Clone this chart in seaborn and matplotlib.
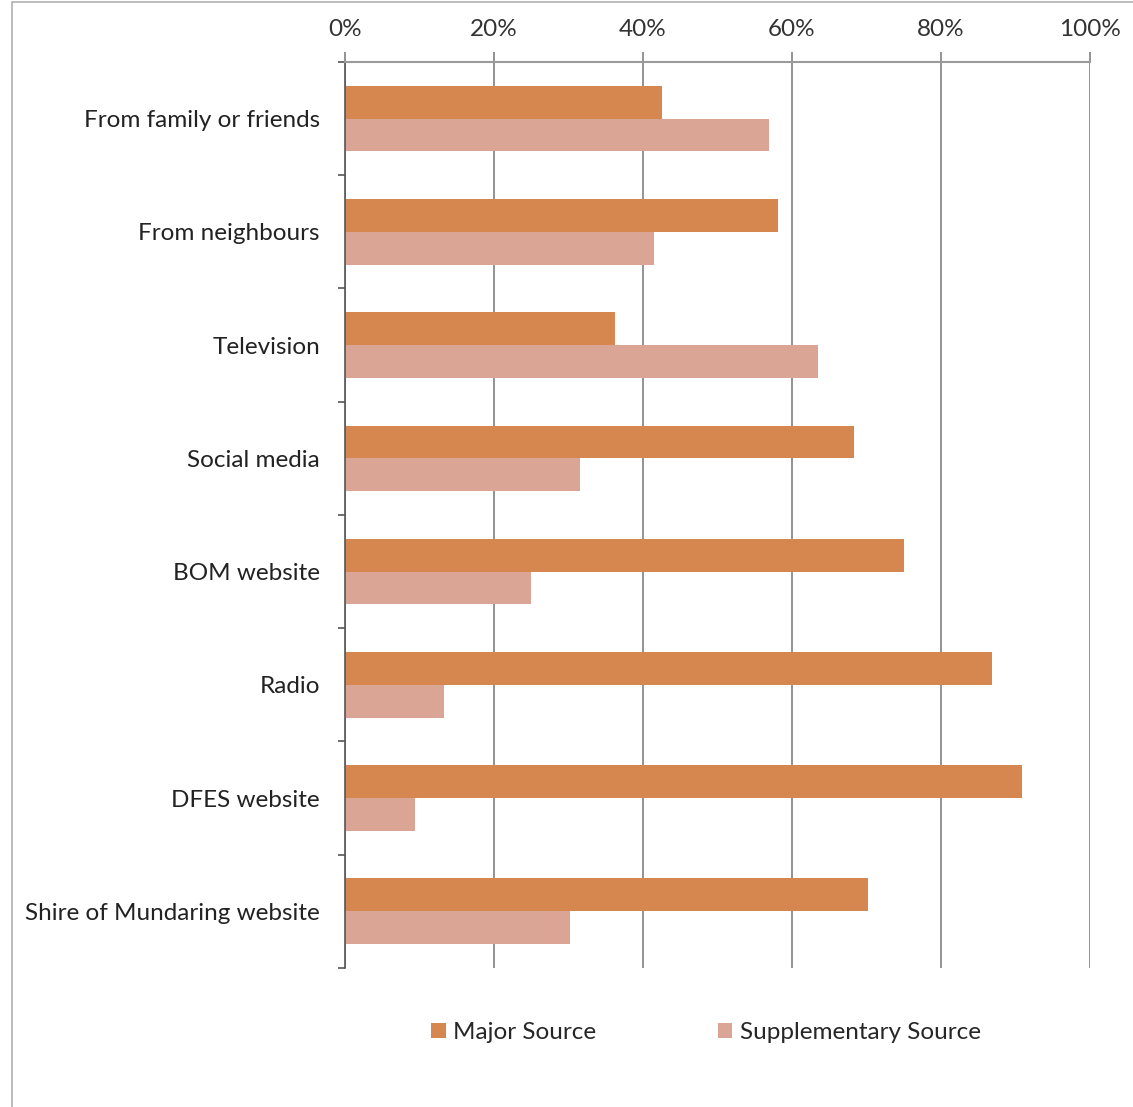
import numpy as np
import pandas as pd
import seaborn as sns
import matplotlib.pyplot as plt
from matplotlib.ticker import PercentFormatter, FixedLocator
from matplotlib.patches import Rectangle

categories = ['From family or friends', 'From neighbours', 'Television', 'Social media',
              'BOM website', 'Radio', 'DFES website', 'Shire of Mundaring website']
major = [42.5, 58.1, 36.2, 68.3, 75.0, 86.8, 90.9, 70.2]
supplementary = [56.9, 41.5, 63.5, 31.5, 25.0, 13.3, 9.4, 30.2]
series = ['Major Source', 'Supplementary Source']
colors = ['#D6874F', '#DBA596']

df = pd.DataFrame({'source': categories * 2,
                   'series': [series[0]] * len(categories) + [series[1]] * len(categories),
                   'pct': major + supplementary})

sns.set_theme(style='white')
plt.rcParams['font.family'] = ['Lato', 'DejaVu Sans']

fig = plt.figure(figsize=(11.33, 11.07), dpi=100)
ax = fig.add_axes([0.3045, 0.1256, 0.962 - 0.3045, 0.944 - 0.1256])

sns.barplot(data=df, y='source', x='pct', hue='series', order=categories,
            hue_order=series, palette=colors, orient='h', width=0.58,
            saturation=1, linewidth=0, ax=ax)

ax.set_xlim(0, 100)
ax.set_ylim(len(categories) - 0.5, -0.5)
ax.xaxis.tick_top()
ax.xaxis.set_major_locator(FixedLocator([0, 20, 40, 60, 80, 100]))
ax.xaxis.set_major_formatter(PercentFormatter(decimals=0))
ax.grid(axis='x', color='#8a8a8a', linewidth=1.3)
ax.set_axisbelow(True)
ax.set_xlabel('')
ax.set_ylabel('')

for s in ['bottom', 'right']:
    ax.spines[s].set_visible(False)
ax.spines['top'].set_color('#9a9a9a')
ax.spines['top'].set_linewidth(1.5)
ax.spines['left'].set_color('#555555')
ax.spines['left'].set_linewidth(1.2)

ax.tick_params(axis='x', top=True, length=7, width=1.3, color='#8a8a8a',
               labelsize=17.5, labelcolor='#333333', pad=9)
ax.tick_params(axis='y', which='major', length=0, labelsize=17.5,
               labelcolor='#222222', pad=18)
ax.yaxis.set_minor_locator(FixedLocator(np.arange(-0.5, len(categories), 1)))
ax.tick_params(axis='y', which='minor', left=True, length=5, width=1.2, color='#555555')

handles, labels = ax.get_legend_handles_labels()
ax.legend(handles, labels, loc='center', bbox_to_anchor=(0.623, 0.067),
          bbox_transform=fig.transFigure, ncol=2, frameon=False, fontsize=17.5,
          handlelength=0.6, handleheight=0.6, handletextpad=0.3, columnspacing=5.0)

fig.patches.append(Rectangle((0.011, -0.01), 1.2, 1.008, transform=fig.transFigure,
                             fill=False, edgecolor='#b0b0b0', linewidth=1.2))

fig.savefig('out.png', dpi=100)
